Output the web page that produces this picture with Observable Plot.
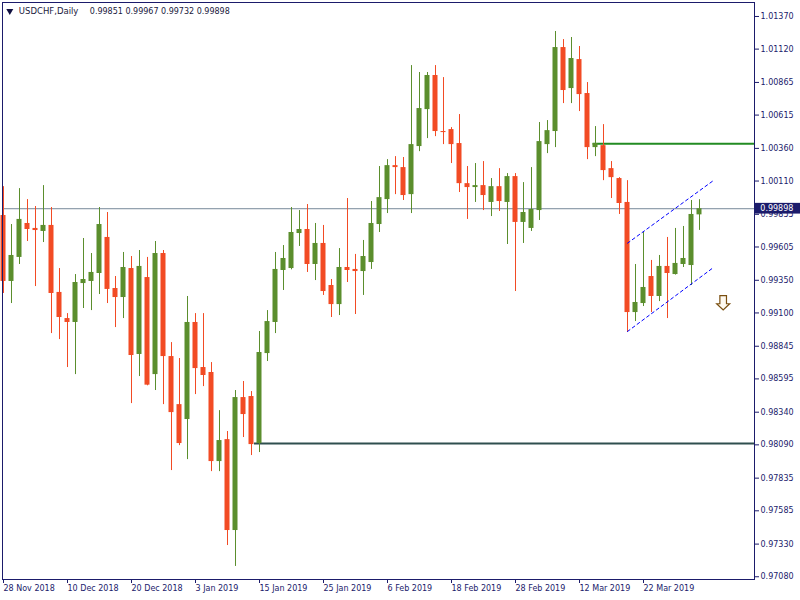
<!DOCTYPE html>
<html><head><meta charset="utf-8">
<script src="https://cdn.jsdelivr.net/npm/d3@7"></script>
<script src="https://cdn.jsdelivr.net/npm/@observablehq/plot@0.6"></script>
<style>
html,body{margin:0;padding:0;background:#fff;}
</style></head><body><div id="chart"></div>
<script>
// ---- data (USDCHF daily candles, 28 Nov 2018 .. 2 Apr 2019) ----
const symbolName = "USDCHF,Daily";
const lastQuote = [0.99851, 0.99967, 0.99732, 0.99898];
const open = [
0.99846, 0.99341, 0.99525, 0.99785, 0.99747, 0.99724, 0.99770, 0.99257, 0.99057, 0.99027,
0.99325, 0.99341, 0.99402, 0.99678, 0.99287, 0.99218, 0.99440, 0.98782, 0.99371, 0.98628,
0.99555, 0.98766, 0.98398, 0.98284, 0.99027, 0.98682, 0.98644, 0.97962, 0.98130, 0.97434,
0.98452, 0.98460, 0.98100, 0.98789, 0.99027, 0.99425, 0.99440, 0.99708, 0.99739, 0.99471,
0.99632, 0.99310, 0.99164, 0.99448, 0.99433, 0.99417, 0.99486, 0.99777, 0.99968, 1.00228,
1.00213, 1.00006, 1.00374, 1.00657, 1.00918, 1.00489, 1.00504, 1.00397, 1.00090, 1.00060,
1.00075, 0.99946, 1.00067, 0.99946, 1.00144, 0.99793, 0.99747, 0.99884, 1.00389, 1.00489,
1.01132, 1.00818, 1.01040, 1.00780, 1.00366, 1.00381, 1.00205, 1.00129, 0.99946, 0.99103,
0.99172, 0.99379, 0.99226, 0.99456, 0.99394, 0.99471, 0.99463, 0.99851];
const high = [
1.00067, 0.99777, 1.00052, 0.99968, 0.99915, 1.00075, 0.99907, 0.99440, 0.99095, 0.99394,
0.99670, 0.99555, 0.99907, 0.99869, 0.99379, 0.99563, 0.99532, 0.99578, 0.99525, 0.99647,
0.99578, 0.98873, 0.98751, 0.99226, 0.99095, 0.99095, 0.98720, 0.98352, 0.98192, 0.98506,
0.98575, 0.98498, 0.98958, 0.99118, 0.99563, 0.99616, 0.99907, 0.99884, 0.99930, 0.99785,
0.99770, 0.99356, 0.99593, 0.99976, 0.99548, 0.99655, 0.99953, 1.00221, 1.00274, 1.00297,
1.00290, 1.00994, 1.00941, 1.00941, 1.00994, 1.00902, 1.00519, 1.00619, 1.00221, 1.00244,
1.00259, 1.00129, 1.00205, 1.00167, 1.00167, 1.00098, 1.00213, 1.00558, 1.00573, 1.01255,
1.01193, 1.01209, 1.01140, 1.00864, 1.00527, 1.00542, 1.00259, 1.00136, 1.00113, 0.99471,
0.99716, 0.99502, 0.99540, 0.99678, 0.99747, 0.99762, 0.99961, 0.99967];
const low = [
0.99249, 0.99172, 0.99471, 0.99647, 0.99302, 0.99639, 0.98942, 0.98896, 0.98682, 0.98628,
0.99134, 0.99118, 0.99241, 0.99172, 0.98988, 0.99057, 0.98406, 0.98613, 0.98542, 0.98506,
0.98398, 0.97893, 0.98084, 0.97977, 0.98475, 0.98536, 0.97885, 0.97885, 0.97319, 0.97159,
0.98146, 0.98008, 0.98031, 0.98728, 0.98942, 0.99272, 0.99430, 0.99609, 0.99410, 0.99348,
0.99234, 0.99065, 0.99080, 0.99333, 0.99088, 0.99234, 0.99433, 0.99716, 0.99861, 1.00006,
0.99961, 0.99861, 1.00335, 1.00435, 1.00450, 1.00389, 1.00244, 1.00022, 0.99816, 0.99946,
0.99884, 0.99838, 0.99877, 0.99624, 0.99264, 0.99632, 0.99724, 0.99808, 1.00320, 1.00366,
1.00703, 1.00703, 1.00642, 1.00274, 1.00297, 1.00113, 0.99976, 0.99854, 0.98950, 0.99034,
0.99149, 0.99103, 0.99187, 0.99057, 0.99390, 0.99448, 0.99310, 0.99732];
const close = [
0.99341, 0.99540, 0.99816, 0.99739, 0.99731, 0.99770, 0.99249, 0.99065, 0.99027, 0.99333,
0.99356, 0.99410, 0.99777, 0.99280, 0.99218, 0.99448, 0.98774, 0.99456, 0.98547, 0.99555,
0.98766, 0.98337, 0.98100, 0.99027, 0.98674, 0.98621, 0.97962, 0.98123, 0.97434, 0.98452,
0.98322, 0.98092, 0.98797, 0.99034, 0.99433, 0.99517, 0.99716, 0.99739, 0.99471, 0.99632,
0.99264, 0.99164, 0.99448, 0.99425, 0.99417, 0.99532, 0.99785, 0.99983, 1.00228, 1.00213,
0.99999, 1.00389, 1.00665, 1.00918, 1.00489, 1.00481, 1.00389, 1.00090, 1.00060, 1.00075,
0.99999, 1.00067, 0.99953, 1.00144, 0.99793, 0.99869, 0.99892, 1.00412, 1.00496, 1.01132,
1.00803, 1.01048, 1.00772, 1.00366, 1.00397, 1.00190, 1.00136, 0.99938, 0.99103, 0.99180,
0.99295, 0.99226, 0.99456, 0.99402, 0.99479, 0.99517, 0.99854, 0.99898];

const xTickIndex = [0, 8, 16, 24, 32, 40, 48, 56, 64, 72, 80];
const xTickLabels = ["28 Nov 2018", "10 Dec 2018", "20 Dec 2018", "3 Jan 2019", "15 Jan 2019",
  "25 Jan 2019", "6 Feb 2019", "18 Feb 2019", "28 Feb 2019", "12 Mar 2019", "22 Mar 2019"];
const yTicks = [1.01370, 1.01120, 1.00865, 1.00615, 1.00360, 1.00110, 0.99855, 0.99605, 0.99350,
  0.99100, 0.98845, 0.98595, 0.98340, 0.98090, 0.97835, 0.97585, 0.97330, 0.97080];

const supportLine = [{level: 0.98100, from: 31.375, to: 93.875}];
const resistanceLine = [{level: 1.00395, from: 73.7, to: 93.875}];
const channelUpper = [{i: 78, p: 0.99634}, {i: 88.79, p: 1.00116}];
const channelLower = [{i: 78, p: 0.98958}, {i: 88.79, p: 0.99450}];
const signalArrow = [{i: 89.96, p: 0.99178}];
const priceBox = [{x1: 94, x2: 99.7, price: 0.99898}];

// ---- build ----
const candles = open.map((o, i) => ({i, o, h: high[i], l: low[i], c: close[i], up: close[i] >= o}));
const GREEN = "#5b8e2d", RED = "#f24b24", NAVY = "#1b1b6b";

const arrowSymbol = {
  draw(ctx) {
    ctx.moveTo(-3.3, -7.2);
    ctx.lineTo(3.3, -7.2);
    ctx.lineTo(3.3, 1);
    ctx.lineTo(6.5, 1);
    ctx.lineTo(0, 7.2);
    ctx.lineTo(-6.5, 1);
    ctx.lineTo(-3.3, 1);
    ctx.closePath();
  }
};

const chart = Plot.plot({
  width: 800,
  height: 600,
  marginLeft: 2,
  marginRight: 46,
  marginTop: 2,
  marginBottom: 21,
  style: {fontFamily: "'DejaVu Sans'", fontSize: "8px", background: "white", color: NAVY, overflow: "visible"},
  x: {type: "linear", domain: [-0.125, 93.875], axis: null},
  y: {domain: [0.97059, 1.01477], axis: null},
  marks: [
    Plot.ruleY([lastQuote[3]], {stroke: "#778899", strokeWidth: 1}),
    Plot.ruleY(supportLine, {y: "level", x1: "from", x2: "to", stroke: "#2f4f4f", strokeWidth: 2}),
    Plot.ruleY(resistanceLine, {y: "level", x1: "from", x2: "to", stroke: "#228b22", strokeWidth: 2}),
    Plot.ruleX(candles, {x: "i", y1: "l", y2: "h", stroke: d => d.up ? GREEN : RED, strokeWidth: 1}),
    Plot.rect(candles, {
      x1: d => d.i - 0.3125, x2: d => d.i + 0.3125,
      y1: d => Math.min(d.o, d.c), y2: d => Math.max(d.o, d.c),
      fill: d => d.up ? GREEN : RED
    }),
    Plot.line(channelUpper, {x: "i", y: "p", stroke: "#0000ff", strokeWidth: 1, strokeDasharray: "3,3"}),
    Plot.line(channelLower, {x: "i", y: "p", stroke: "#0000ff", strokeWidth: 1, strokeDasharray: "3,3"}),
    Plot.dot(signalArrow, {x: "i", y: "p", symbol: arrowSymbol, r: 5, fill: "#fffaf0", stroke: "#7a4f10", strokeWidth: 1.2}),
    Plot.axisY(yTicks, {anchor: "right", label: null, tickSize: 4, tickPadding: 2, fontSize: 8,
      tickFormat: d => d.toFixed(5), stroke: NAVY, fill: NAVY}),
    Plot.axisX(xTickIndex, {anchor: "bottom", label: null, tickSize: 4, tickPadding: 2, fontSize: 8,
      textAnchor: "start", tickFormat: i => xTickLabels[xTickIndex.indexOf(i)], stroke: NAVY, fill: NAVY}),
    Plot.frame({stroke: NAVY}),
    Plot.rect(priceBox, {x1: "x1", x2: "x2", y1: d => d.price - 0.00041, y2: d => d.price + 0.00041, fill: NAVY}),
    Plot.text(priceBox, {x: 94.6, y: "price", text: d => d.price.toFixed(5), fill: "white",
      textAnchor: "start", fontSize: 8}),
    Plot.dot([symbolName], {frameAnchor: "top-left", dx: 7.3, dy: 8.5, symbol: "triangle", rotate: 180,
      r: 2.6, fill: "#101040", stroke: null}),
    Plot.text([symbolName], {frameAnchor: "top-left", dx: 16.3, dy: 8.5, text: d => d, textAnchor: "start",
      lineAnchor: "middle", fill: "#1a1a40", fontSize: 8.5}),
    Plot.text([lastQuote.map(v => v.toFixed(5)).join(" ")], {frameAnchor: "top-left", dx: 87.3, dy: 8.5,
      text: d => d, textAnchor: "start", lineAnchor: "middle", fill: "#1a1a40", fontSize: 8})
  ]
});
document.getElementById("chart").appendChild(chart);
</script>
</body></html>
